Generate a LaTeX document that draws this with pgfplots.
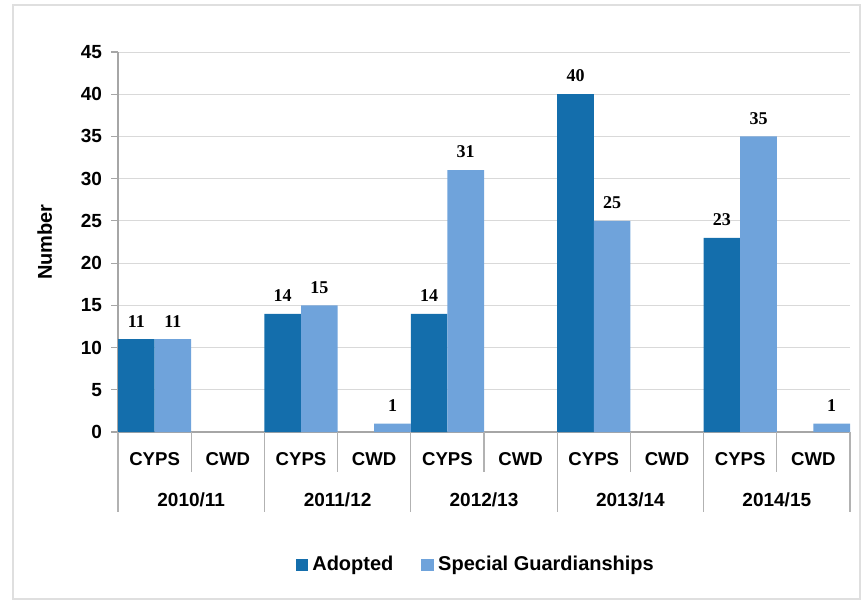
\documentclass[border=0pt]{standalone}
\usepackage{pgfplots}
\pgfplotsset{compat=1.18}
\usepackage{fontspec}
\setmainfont{Liberation Sans}
\newfontfamily\serifnum{Liberation Serif}
\definecolor{adopt}{RGB}{20,110,172}
\definecolor{sg}{RGB}{111,163,219}
\begin{document}
\begin{tikzpicture}
\useasboundingbox (0,0) rectangle (431pt,300.5pt);
\draw[gray!25, line width=0.6pt] (6.5pt,1pt) rectangle (430pt,298pt);
\begin{axis}[
  at={(59pt,84.5pt)}, anchor=south west,
  scale only axis, width=366pt, height=190pt,
  clip=false,
  ymin=0, ymax=45, ytick={0,5,...,45},
  xmin=-0.5, xmax=9.5,
  ybar=0pt, bar width=18.3pt,
  axis lines*=left,
  axis line style={gray!70, line width=0.6pt},
  ymajorgrids, grid style={gray!30, line width=0.5pt},
  xtick={0,...,9},
  xticklabels={CYPS,CWD,CYPS,CWD,CYPS,CWD,CYPS,CWD,CYPS,CWD},
  x tick style={draw=none},
  y tick style={gray!70, line width=0.6pt},
  tick align=outside, major tick length=3.5pt,
  /pgf/number format/assume math mode=true,
  yticklabel style={font=\bfseries\fontsize{9.5}{10}\selectfont, xshift=-1pt},
  xticklabel style={font=\bfseries\fontsize{9.3}{10}\selectfont, anchor=center, yshift=-10pt},
  ylabel={Number},
  ylabel style={font=\bfseries\fontsize{10}{12}\selectfont, at={(axis description cs:-0.1,0.5)}, anchor=center},
  nodes near coords,
  every node near coord/.append style={font=\serifnum\bfseries\fontsize{9}{10}\selectfont, text=black, yshift=2.5pt},
  legend style={at={(0.49,-0.35)}, anchor=center, draw=none, legend columns=2,
    font=\bfseries\fontsize{10}{12}\selectfont,
    /tikz/every even column/.append style={column sep=12pt}},
  legend image code/.code={\fill[#1] (0pt,-3.2pt) rectangle (6.4pt,3.2pt);},
]
\addplot[fill=adopt, draw=none] coordinates {(0,11) (2,14) (4,14) (6,40) (8,23)};
\addplot[fill=sg, draw=none] coordinates {(0,11) (2,15) (3,1) (4,31) (6,25) (8,35) (9,1)};
\legend{Adopted, Special Guardianships}
\pgfplotsinvokeforeach{0.5,2.5,4.5,6.5,8.5}{\draw[gray!60, line width=0.6pt] (axis cs:#1,0) -- ([yshift=-20pt]axis cs:#1,0);}
\pgfplotsinvokeforeach{-0.5,1.5,3.5,5.5,7.5,9.5}{\draw[gray!60, line width=0.6pt] (axis cs:#1,0) -- ([yshift=-40pt]axis cs:#1,0);}
\node[font=\bfseries\fontsize{9.5}{10}\selectfont] at ([yshift=-34pt]axis cs:0.5,0) {2010/11};
\node[font=\bfseries\fontsize{9.5}{10}\selectfont] at ([yshift=-34pt]axis cs:2.5,0) {2011/12};
\node[font=\bfseries\fontsize{9.5}{10}\selectfont] at ([yshift=-34pt]axis cs:4.5,0) {2012/13};
\node[font=\bfseries\fontsize{9.5}{10}\selectfont] at ([yshift=-34pt]axis cs:6.5,0) {2013/14};
\node[font=\bfseries\fontsize{9.5}{10}\selectfont] at ([yshift=-34pt]axis cs:8.5,0) {2014/15};
\end{axis}
\end{tikzpicture}
\end{document}
